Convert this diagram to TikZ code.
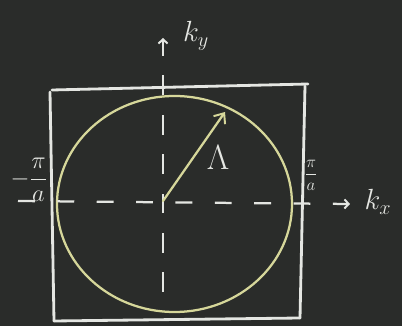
\documentclass[tikz,border=0pt]{standalone}
\usetikzlibrary{arrows.meta}
\definecolor{board}{HTML}{2A2C2A}
\definecolor{chalk}{HTML}{E4E6E2}
\definecolor{ychalk}{HTML}{D6D79A}
\begin{document}
\begin{tikzpicture}[x=0.025cm,y=-0.025cm,
  sq/.style={draw=chalk,line width=2pt,line cap=round},
  axis/.style={draw=chalk,line width=1.6pt,dash pattern=on 12 off 16,-{Straight Barb[length=3pt,width=6.5pt,line width=1.4pt]}},
  lbl/.style={text=chalk,inner sep=0pt},
  circ/.style={draw=ychalk,line width=1.6pt},
  vec/.style={draw=ychalk,line width=1.6pt,line cap=round,-{Straight Barb[length=6pt,width=10pt,line width=1.4pt]}}]
\fill[board] (0,0) rectangle (402,326);
\useasboundingbox (0,0) rectangle (402,326);
% square
\coordinate (s1) at (52,90);
\coordinate (s2) at (308,84);
\coordinate (s2b) at (305,86);
\coordinate (s3) at (300,318);
\coordinate (s4) at (54,321);
\coordinate (s1b) at (50,92);
\draw[sq] (s1) -- (s2);
\draw[sq] (s2b) -- (s3);
\draw[sq] (s3) -- (s4);
\draw[sq] (s1b) -- (s4);
% circle
\coordinate (cc) at (174.5,204);
\draw[circ] (cc) ellipse [x radius=117.5, y radius=108];
% axes
\coordinate (o) at (163,201);
\coordinate (xl) at (18,201);
\coordinate (xr) at (350,204);
\coordinate (yb) at (163,292);
\coordinate (yt) at (163,38);
\draw[axis] (xl) -- (xr);
\draw[axis,dash pattern=on 14 off 14] (yb) -- (yt);
% vector
\coordinate (tip) at (225,112);
\draw[vec] (o) -- (tip);
% labels
\node[lbl,font=\fontsize{22}{24}\selectfont] (ky) at (196,36) {$k_y$};
\node[lbl,font=\fontsize{22}{24}\selectfont] (kx) at (378,202) {$k_x$};
\node[lbl,font=\fontsize{26}{28}\selectfont] (lam) at (218,158) {$\Lambda$};
\node[lbl,font=\fontsize{13}{14}\selectfont] (pr) at (311,175) {$\displaystyle\frac{\pi}{a}$};
\node[lbl,font=\fontsize{16}{18}\selectfont] (pl) at (29,180) {$\displaystyle-\frac{\pi}{a}$};
\end{tikzpicture}
\end{document}
